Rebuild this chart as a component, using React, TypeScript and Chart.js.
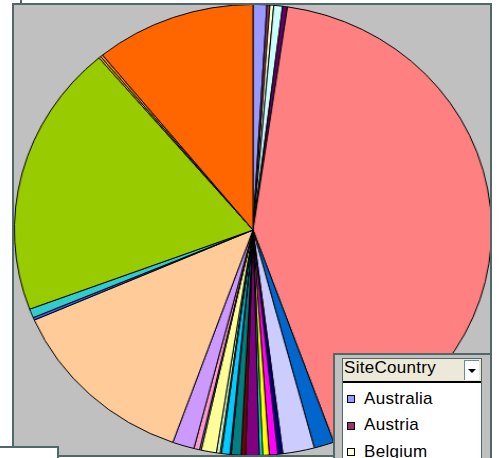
import React, { useEffect, useRef } from "react";
import { Chart, registerables } from "chart.js";

Chart.register(...registerables);

const countries = [
  "Australia", "Austria", "Belgium", "Brazil", "Bulgaria", "Canada",
  "China", "Czech Republic", "Denmark", "Finland", "France", "Germany",
  "Greece", "Hong Kong", "Hungary", "India", "Ireland", "Israel",
  "Italy", "Japan", "Korea", "Mexico", "Netherlands", "New Zealand",
  "Norway", "Poland", "Spain", "Sweden", "Switzerland", "United States",
];

const shares = [
  0.93, 0.2, 0.26, 0.59, 0.33, 42.18,
  1.36, 2.14, 0.33, 0.58, 0.44, 0.22,
  0.93, 0.29, 0.67, 0.08, 0.58, 0.08,
  0.25, 1.03, 0.11, 0.39, 1.47, 13.0,
  0.19, 0.64, 19.53, 0.14, 0.17, 10.86,
];

const palette = [
  "#9999FF", "#993366", "#FFFFCC", "#CCFFFF", "#660066", "#FF8080",
  "#0066CC", "#CCCCFF", "#000080", "#FF00FF", "#FFFF00", "#00FFFF",
  "#800080", "#800000", "#008080", "#0000FF", "#00CCFF", "#CCFFFF",
  "#CCFFCC", "#FFFF99", "#99CCFF", "#FF99CC", "#CC99FF", "#FFCC99",
  "#3366FF", "#33CCCC", "#99CC00", "#FFCC00", "#FF9900", "#FF6600",
];

const legendTitle = "SiteCountry";

const BORDER = "#4f6868";
const FONT = "'Liberation Sans', Arial, sans-serif";

export default function App() {
  const ref = useRef<HTMLCanvasElement | null>(null);

  useEffect(() => {
    if (!ref.current) return;
    const chart = new Chart(ref.current, {
      type: "pie",
      data: {
        labels: countries,
        datasets: [
          {
            data: shares,
            backgroundColor: palette,
            borderColor: "#000000",
            borderWidth: 1,
          },
        ],
      },
      options: {
        responsive: false,
        animation: false,
        layout: { padding: 0 },
        plugins: {
          legend: { display: false },
          tooltip: { enabled: false },
        },
      },
    });
    return () => chart.destroy();
  }, []);

  return (
    <div
      style={{
        position: "fixed",
        left: 0,
        top: 0,
        width: 499,
        height: 458,
        overflow: "hidden",
        background: "#ffffff",
      }}
    >
      {/* small tick at top-left */}
      <div style={{ position: "absolute", left: 20, top: 0, width: 2, height: 3, background: BORDER }} />
      {/* chart panel */}
      <div
        style={{
          position: "absolute",
          left: 12,
          top: 3,
          width: 480,
          height: 454,
          boxSizing: "border-box",
          border: `2px solid ${BORDER}`,
          background: "#c0c0c0",
          overflow: "hidden",
        }}
      >
        <div
          style={{
            position: "absolute",
            left: 12.5,
            top: -1,
            width: 452,
            height: 452,
            transform: "scaleX(1.058)",
            transformOrigin: "50% 50%",
          }}
        >
          <canvas ref={ref} width={452} height={452} style={{ display: "block" }} />
        </div>
      </div>
      {/* white field box bottom-left */}
      <div
        style={{
          position: "absolute",
          left: -2,
          top: 446,
          width: 61,
          height: 30,
          boxSizing: "border-box",
          borderTop: `2px solid ${BORDER}`,
          borderRight: `2px solid ${BORDER}`,
          background: "#ffffff",
        }}
      />
      {/* legend */}
      <div
        style={{
          position: "absolute",
          left: 333,
          top: 353,
          width: 159,
          height: 120,
          boxSizing: "border-box",
          border: `2px solid ${BORDER}`,
          background: "#c0c0c0",
        }}
      />
      <div
        style={{
          position: "absolute",
          left: 342,
          top: 358,
          width: 140,
          height: 120,
          boxSizing: "border-box",
          border: `1px solid ${BORDER}`,
          background: "#ffffff",
        }}
      />
      <div
        style={{
          position: "absolute",
          left: 343,
          top: 359,
          width: 138,
          height: 22,
          background: "#ece9d8",
          borderBottom: "2px solid #000000",
        }}
      />
      <div
        style={{
          position: "absolute",
          left: 344,
          top: 358,
          height: 19,
          lineHeight: "19px",
          fontFamily: FONT,
          fontSize: 17,
          letterSpacing: 0.3,
          color: "#000000",
          whiteSpace: "nowrap",
        }}
      >
        {legendTitle}
      </div>
      {/* dropdown button */}
      <div
        style={{
          position: "absolute",
          left: 464,
          top: 360,
          width: 15,
          height: 20,
          boxSizing: "border-box",
          background: "#ffffff",
          borderLeft: "1px solid #6a88b0",
          borderTop: "1px solid #6a88b0",
        }}
      >
        <div
          style={{
            position: "absolute",
            left: 3,
            top: 8,
            width: 0,
            height: 0,
            borderLeft: "4px solid transparent",
            borderRight: "4px solid transparent",
            borderTop: "4px solid #000000",
          }}
        />
      </div>
      {countries.slice(0, 4).map((name, i) => (
        <React.Fragment key={name}>
          <div
            style={{
              position: "absolute",
              left: 346.5,
              top: 395 + i * 26.7,
              width: 8,
              height: 8,
              boxSizing: "border-box",
              border: "1px solid #000000",
              background: palette[i],
            }}
          />
          <div
            style={{
              position: "absolute",
              left: 364,
              top: 388.6 + i * 26.7,
              height: 19,
              lineHeight: "19px",
              fontFamily: FONT,
              fontSize: 17,
              letterSpacing: 0.3,
              color: "#000000",
              whiteSpace: "nowrap",
            }}
          >
            {name}
          </div>
        </React.Fragment>
      ))}
    </div>
  );
}
